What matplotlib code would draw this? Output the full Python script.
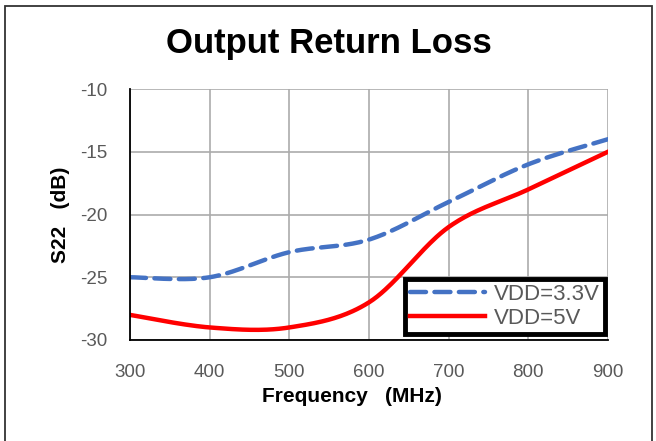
import numpy as np
import matplotlib.pyplot as plt
from matplotlib.patches import Rectangle

plt.rcParams['font.family'] = ['Liberation Sans', 'DejaVu Sans']
plt.rcParams['axes.unicode_minus'] = False

# Data (S22 in dB)
freq = [300, 400, 500, 600, 700, 800, 900]
s22_3v3 = [-25, -25, -23, -22, -19, -16, -14]
s22_5v = [-28, -29, -29, -27, -21, -18, -15]


def excel_smooth(x, y, n=40):
    # Bezier smoothing similar to the spreadsheet "smoothed line"
    x = np.asarray(x, float)
    y = np.asarray(y, float)
    px = np.concatenate([[x[0]], x, [x[-1]]])
    py = np.concatenate([[y[0]], y, [y[-1]]])
    xs, ys = [], []
    t = np.linspace(0, 1, n)
    for i in range(1, len(px) - 2):
        p0 = np.array([px[i], py[i]])
        p3 = np.array([px[i + 1], py[i + 1]])
        c1 = p0 + (np.array([px[i + 1], py[i + 1]]) - np.array([px[i - 1], py[i - 1]])) / 6
        c2 = p3 - (np.array([px[i + 2], py[i + 2]]) - np.array([px[i], py[i]])) / 6
        b = ((1 - t) ** 3)[:, None] * p0 + (3 * (1 - t) ** 2 * t)[:, None] * c1 \
            + (3 * (1 - t) * t ** 2)[:, None] * c2 + (t ** 3)[:, None] * p3
        xs.extend(b[:, 0])
        ys.extend(b[:, 1])
    return np.array(xs), np.array(ys)


fig = plt.figure(figsize=(6.56, 4.41), dpi=100)
ax = fig.add_axes([130 / 656, 101 / 441, 478 / 656, 251 / 441])

x1, y1 = excel_smooth(freq, s22_3v3)
x2, y2 = excel_smooth(freq, s22_5v)
ax.plot(x1, y1, color='#4472C4', lw=3.2, ls=(0, (3.6, 1.9)), label='VDD=3.3V',
        dash_capstyle='round')
ax.plot(x2, y2, color='#FF0000', lw=3.2, label='VDD=5V')

ax.set_xlim(300, 900)
ax.set_ylim(-30, -10)
ax.set_xticks(range(300, 901, 100))
ax.set_yticks(range(-30, -9, 5))
ax.grid(True, color='#ababab', lw=1.2)
ax.set_axisbelow(True)
ax.tick_params(length=0, labelsize=13.5, labelcolor='#595959')
ax.tick_params(axis='x', pad=17)
ax.tick_params(axis='y', pad=16)
for s in ['top', 'right']:
    ax.spines[s].set_visible(False)
for s in ['left', 'bottom']:
    ax.spines[s].set_color('black')
    ax.spines[s].set_linewidth(1.3)

fig.text(329 / 656, 1 - 43 / 441, 'Output Return Loss', fontsize=25, fontweight='bold',
         ha='center', va='center')
ax.set_xlabel('Frequency   (MHz)', fontsize=15, fontweight='bold')
ax.set_ylabel('S22   (dB)', fontsize=15, fontweight='bold')
ax.xaxis.set_label_coords((352 - 130) / 478, (340 - 397) / 251)
ax.yaxis.set_label_coords((60 - 130) / 478, 0.5)
ax.xaxis.label.set_va('center')
ax.yaxis.label.set_va('center')

leg = ax.legend(loc='lower right', bbox_to_anchor=(1.0, 0.012), fontsize=16,
                fancybox=False, framealpha=1, handlelength=3.4,
                borderpad=0.2, labelspacing=0.15, handletextpad=0.4,
                borderaxespad=0.15)
leg.get_frame().set_edgecolor('black')
leg.get_frame().set_linewidth(3.5)
for t in leg.get_texts():
    t.set_color('#595959')

# outer chart border
fig.patches.append(Rectangle((5 / 656, -0.05), 647 / 656, 1.036, transform=fig.transFigure,
                             fill=False, edgecolor='#333333', lw=1.3))

fig.savefig('out.png', dpi=100)
